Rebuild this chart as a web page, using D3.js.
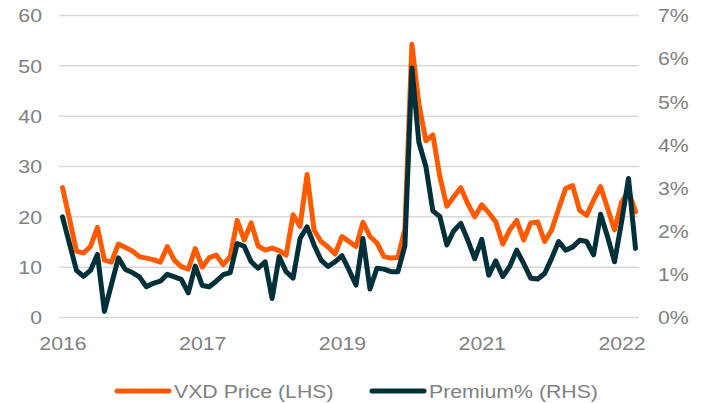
<!DOCTYPE html>
<html>
<head>
<meta charset="utf-8">
<script src="https://cdn.jsdelivr.net/npm/d3@7"></script>
<style>
  body { margin: 0; background: #fff; }
  svg { display: block; font-family: "Liberation Sans", Arial, sans-serif; }
</style>
</head>
<body>
<svg id="chart" width="702" height="403"></svg>
<script>
// VXD price (LHS) and premium % (RHS), one value per observation
const vxd = [25.7, 19.5, 13.1, 12.7, 14.0, 17.8, 11.3, 10.9, 14.5, 13.8,
  13.1, 12.0, 11.7, 11.4, 10.9, 14.0, 11.3, 10.0, 9.5, 13.6,
  9.9, 11.8, 12.3, 10.4, 12.0, 19.2, 15.3, 18.7, 14.1, 13.3,
  13.7, 13.2, 12.3, 20.3, 18.0, 28.3, 17.3, 15.0, 13.9, 12.5,
  16.0, 15.0, 14.0, 18.8, 16.0, 14.7, 12.0, 11.7, 11.8, 17.5,
  54.2, 42.3, 35.0, 36.2, 27.9, 22.0, 23.9, 25.7, 22.5, 19.9,
  22.3, 20.7, 18.9, 14.5, 17.3, 19.2, 15.3, 18.7, 18.9, 15.0,
  17.3, 21.5, 25.5, 26.1, 21.2, 20.2, 23.2, 25.9, 21.6, 17.3,
  22.8, 25.0, 20.9];
const premium = [2.32, 1.70, 1.08, 0.94, 1.08, 1.45, 0.13, 0.75, 1.37, 1.10,
  1.03, 0.93, 0.70, 0.78, 0.83, 0.99, 0.93, 0.87, 0.56, 1.18,
  0.73, 0.70, 0.83, 0.98, 1.03, 1.70, 1.64, 1.28, 1.13, 1.28,
  0.43, 1.40, 1.05, 0.90, 1.82, 2.09, 1.67, 1.32, 1.17, 1.28,
  1.42, 1.09, 0.74, 1.82, 0.65, 1.13, 1.11, 1.05, 1.05, 1.65,
  5.77, 4.05, 3.49, 2.46, 2.33, 1.67, 2.00, 2.17, 1.78, 1.35,
  1.80, 0.97, 1.30, 0.94, 1.17, 1.55, 1.24, 0.90, 0.88, 1.01,
  1.36, 1.75, 1.55, 1.62, 1.78, 1.75, 1.44, 2.38, 1.86, 1.28,
  2.20, 3.21, 1.59];
// category axis labels and the observation they sit under
const yearLabels = ["2016", "2017", "2019", "2021", "2022"];
const yearIdx = [0, 20, 40, 60, 80];
const leftTicks = [0, 10, 20, 30, 40, 50, 60];
const rightTicks = [0, 1, 2, 3, 4, 5, 6, 7];

const orange = "#ff5a00";
const dark = "#00303a";
const grey = "#808080";
const stretch = "scale(1.12,1)"; // labels in the picture are a bit wide

var svg = d3.select("#chart");
var plotLeft = 59, plotRight = 639, plotTop = 15, plotBottom = 317;

var x = d3.scalePoint()
  .domain(d3.range(vxd.length))
  .range([plotLeft, plotRight])
  .padding(0.5);
var yL = d3.scaleLinear().domain([0, 60]).range([plotBottom, plotTop]);
var yR = d3.scaleLinear().domain([0, 7]).range([plotBottom, plotTop]);

// gridlines
svg.append("g")
  .attr("transform", "translate(" + plotLeft + ",0)")
  .call(d3.axisLeft(yL).tickValues(leftTicks).tickSize(-(plotRight - plotLeft)).tickFormat(""))
  .call(g => g.select(".domain").remove())
  .call(g => g.selectAll("line").attr("stroke", "#d9d9d9").attr("stroke-width", 1.5));

// left axis
svg.append("g")
  .attr("transform", "translate(" + plotLeft + ",0)")
  .call(d3.axisLeft(yL).tickValues(leftTicks).tickSize(0).tickPadding(0))
  .call(g => g.select(".domain").remove())
  .call(g => g.selectAll("text")
    .attr("x", -17 / 1.12)
    .attr("dy", "0.36em")
    .attr("transform", stretch)
    .attr("fill", grey)
    .style("font-size", "19px"));

// right axis
svg.append("g")
  .attr("transform", "translate(" + plotRight + ",0)")
  .call(d3.axisRight(yR).tickValues(rightTicks).tickSize(0).tickFormat(d => d + "%"))
  .call(g => g.select(".domain").remove())
  .call(g => g.selectAll("text")
    .attr("x", 19 / 1.12)
    .attr("dy", "0.36em")
    .attr("transform", stretch)
    .attr("fill", grey)
    .style("font-size", "19px"));

// bottom axis
svg.append("g")
  .attr("transform", "translate(0," + plotBottom + ")")
  .call(d3.axisBottom(x).tickValues(yearIdx).tickSize(0)
    .tickFormat((d, i) => yearLabels[i]))
  .call(g => g.select(".domain").remove())
  .call(g => g.selectAll("text")
    .attr("y", 33)
    .attr("dy", 0)
    .attr("transform", stretch)
    .attr("fill", grey)
    .style("font-size", "19px"));

var lineL = d3.line().x((d, i) => x(i)).y(d => yL(d));
var lineR = d3.line().x((d, i) => x(i)).y(d => yR(d));

svg.append("path")
  .datum(vxd)
  .attr("d", lineL)
  .attr("fill", "none")
  .attr("stroke", orange)
  .attr("stroke-width", 5)
  .attr("stroke-linejoin", "round")
  .attr("stroke-linecap", "round");

svg.append("path")
  .datum(premium)
  .attr("d", lineR)
  .attr("fill", "none")
  .attr("stroke", dark)
  .attr("stroke-width", 5)
  .attr("stroke-linejoin", "round")
  .attr("stroke-linecap", "round");

// legend
var legend = [
  { name: "VXD Price (LHS)", color: orange, x: 117 },
  { name: "Premium% (RHS)", color: dark, x: 372 }
];
var lg = svg.append("g").selectAll("g")
  .data(legend)
  .enter()
  .append("g")
  .attr("transform", d => "translate(" + d.x + ",391)");
lg.append("line")
  .attr("x1", 0).attr("x2", 52)
  .attr("stroke", d => d.color)
  .attr("stroke-width", 5)
  .attr("stroke-linecap", "round");
lg.append("text")
  .attr("transform", "translate(57,0) " + stretch)
  .attr("dy", "0.36em")
  .attr("fill", grey)
  .style("font-size", "19px")
  .text(d => d.name);
</script>
</body>
</html>
